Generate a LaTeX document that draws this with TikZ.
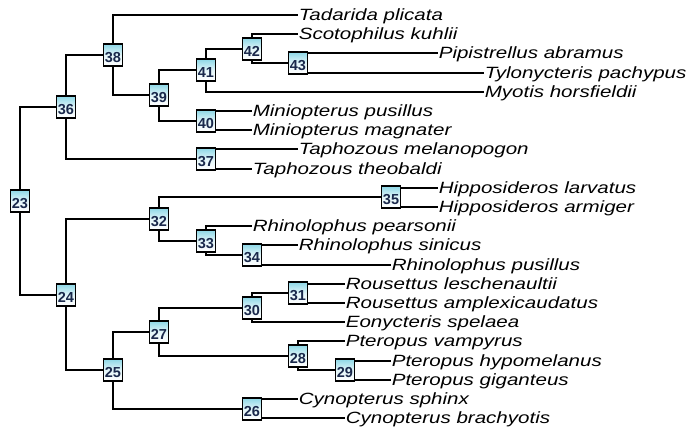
\documentclass[tikz,border=0pt]{standalone}
\usepackage{fontspec}
\newfontfamily\leaffont[FakeStretch=1.26]{Liberation Sans}
\newfontfamily\numfont{Liberation Sans}
\usetikzlibrary{backgrounds}
\definecolor{boxcyan}{RGB}{140,215,230}
\definecolor{numblue}{RGB}{25,40,75}
\begin{document}
\begin{tikzpicture}[x=1pt, y=-1pt,
  clade/.style={draw=black, line width=1.5pt, top color=boxcyan, bottom color=white, middle color=boxcyan!25!white,
    minimum width=19pt, minimum height=22pt, inner sep=0pt, text height=16pt, text depth=0pt,
    font=\numfont\bfseries\fontsize{14.5}{14.5}\selectfont, text=numblue},
  leaf/.style={anchor=west, inner xsep=0.6pt, inner ysep=0pt, text height=11.7pt, text depth=0pt,
    font=\leaffont\itshape\fontsize{16.3}{16.3}\selectfont},
  br/.style={draw=black, line width=2pt}]
\useasboundingbox (0,0) rectangle (689,430);
% internal nodes
\node[clade] (n23) at (20,201) {23};
\node[clade] (n36) at (66,107) {36};
\node[clade] (n24) at (66,295) {24};
\node[clade] (n38) at (113,55) {38};
\node[clade] (n25) at (113,370) {25};
\node[clade] (n39) at (159,95) {39};
\node[clade] (n32) at (159,219) {32};
\node[clade] (n27) at (159,332) {27};
\node[clade] (n41) at (206,70) {41};
\node[clade] (n40) at (206,121) {40};
\node[clade] (n37) at (206,159) {37};
\node[clade] (n33) at (206,241) {33};
\node[clade] (n42) at (252,49) {42};
\node[clade] (n34) at (252,255) {34};
\node[clade] (n30) at (252,308) {30};
\node[clade] (n26) at (252,409) {26};
\node[clade] (n43) at (298,63) {43};
\node[clade] (n31) at (298,293) {31};
\node[clade] (n28) at (298,356) {28};
\node[clade] (n29) at (345,370) {29};
\node[clade] (n35) at (391,197) {35};
% leaves
\node[leaf] (tad) at (298,15) {Tadarida plicata};
\node[leaf] (sco) at (298,34) {Scotophilus kuhlii};
\node[leaf] (pip) at (438,53) {Pipistrellus abramus};
\node[leaf] (tyl) at (484,73) {Tylonycteris pachypus};
\node[leaf] (myo) at (484,92) {Myotis horsfieldii};
\node[leaf] (mip) at (252,111) {Miniopterus pusillus};
\node[leaf] (mim) at (252,130) {Miniopterus magnater};
\node[leaf] (tame) at (298,149) {Taphozous melanopogon};
\node[leaf] (tath) at (252,169) {Taphozous theobaldi};
\node[leaf] (hila) at (438,188) {Hipposideros larvatus};
\node[leaf] (hiar) at (438,207) {Hipposideros armiger};
\node[leaf] (rhpe) at (252,226) {Rhinolophus pearsonii};
\node[leaf] (rhsi) at (298,245) {Rhinolophus sinicus};
\node[leaf] (rhpu) at (391,265) {Rhinolophus pusillus};
\node[leaf] (role) at (345,284) {Rousettus leschenaultii};
\node[leaf] (roam) at (345,303) {Rousettus amplexicaudatus};
\node[leaf] (eosp) at (345,322) {Eonycteris spelaea};
\node[leaf] (ptva) at (345,341) {Pteropus vampyrus};
\node[leaf] (pthy) at (391,361) {Pteropus hypomelanus};
\node[leaf] (ptgi) at (391,380) {Pteropus giganteus};
\node[leaf] (cysp) at (298,399) {Cynopterus sphinx};
\node[leaf] (cybr) at (345,418) {Cynopterus brachyotis};
\begin{pgfonlayer}{background}
\foreach \p/\c in {n23/n36, n23/n24, n36/n38, n36/n37, n38/n39, n39/n41, n39/n40, n41/n42, n42/n43,
  n24/n32, n24/n25, n32/n35, n32/n33, n33/n34, n25/n27, n25/n26, n27/n30, n27/n28, n30/n31, n28/n29}
  \draw[br] (\p.center) |- (\c.center);
\foreach \p/\c in {n38/tad, n41/myo, n42/sco, n43/pip, n43/tyl, n40/mip, n40/mim, n37/tame, n37/tath,
  n35/hila, n35/hiar, n33/rhpe, n34/rhsi, n34/rhpu, n30/eosp, n31/role, n31/roam, n28/ptva,
  n29/pthy, n29/ptgi, n26/cysp, n26/cybr}
  \draw[br] (\p.center) |- (\c.west);
\end{pgfonlayer}
\end{tikzpicture}
\end{document}
